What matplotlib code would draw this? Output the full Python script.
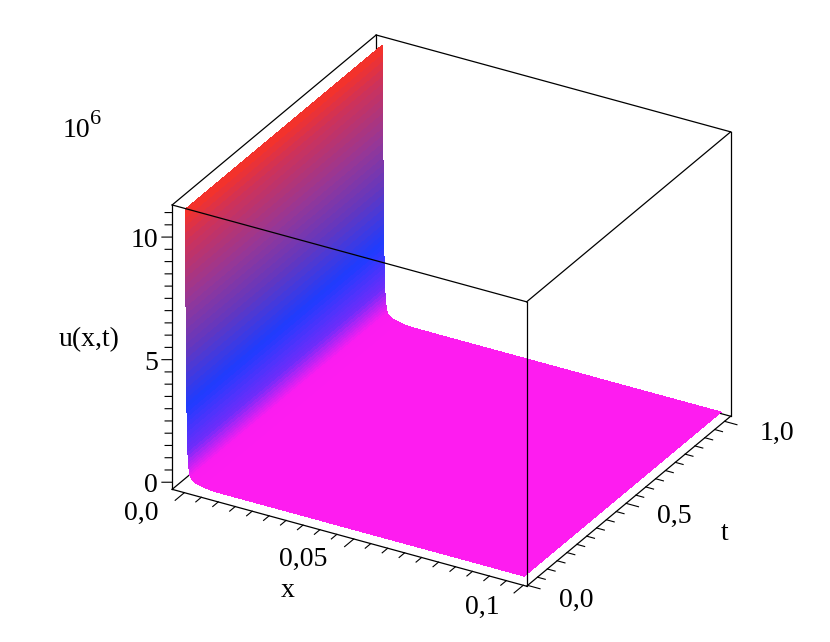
import numpy as np
import matplotlib
matplotlib.use("Agg")
import matplotlib.pyplot as plt
from matplotlib.colors import LinearSegmentedColormap, Normalize

plt.rcParams['font.family'] = ['Liberation Serif', 'DejaVu Serif']

# Profil de la surface u(x,t) (en unites de 10^6)
x_vals = [0, .00002, .00003, .00004, .00006, .00007, .00009, .0001, .00011, .00013,
          .00014, .00016, .00017, .00019, .0002, .00021, .00023, .00024, .00026, .00027,
          .00029, .00031, .00033, .00036, .00038, .0004, .00042, .00044, .00046, .00048,
          .0005, .00052, .00054, .00057, .0006, .00063, .00066, .0007, .00074, .00078,
          .00083, .00087, .00095, .00103, .00112, .00122, .00135, .00145, .00185, .00235,
          .003, .0038, .0052, .0066, .0082, .0097, .1]
u_vals = [11.24, 10.9, 10.6, 10.3, 10.0, 9.7, 9.4, 9.1, 8.8, 8.5,
          8.2, 7.9, 7.6, 7.3, 7.0, 6.7, 6.4, 6.1, 5.8, 5.5,
          5.2, 4.9, 4.6, 4.3, 4.0, 3.8, 3.6, 3.4, 3.2, 3.0,
          2.8, 2.6, 2.4, 2.2, 2.0, 1.85, 1.7, 1.55, 1.4, 1.25,
          1.1, .95, .85, .75, .65, .55, .45, .38, .3, .24,
          .19, .15, .11, .08, .06, .05, .05]
t_vals = [0, 1]

x_ticks = [0, .05, .1]
t_ticks = [0, .5, 1]
z_ticks = [0, 5, 10]

xlim = (-.0036, .1010)
tlim = (-.005, 1.031)
zlim = (-.29, 11.31)

fig = plt.figure(figsize=(8.3, 6.42), dpi=100)
ax = fig.add_axes([120.7 / 830, 0.7 / 642, 644 / 830, 644 / 642], projection='3d', proj_type='ortho')
ax.computed_zorder = False
ax.view_init(elev=28.5, azim=-60.2)
ax.set_box_aspect((409, 411, 324))
ax.set_xlim(*xlim, view_margin=0)
ax.set_ylim(*tlim, view_margin=0)
ax.set_zlim(*zlim, view_margin=0)
ax.set_axis_off()

# Surface coloree selon la hauteur
X, T = np.meshgrid(x_vals, t_vals)
U = np.tile(u_vals, (len(t_vals), 1))
z_max = 11.3
stops = [(0, (255, 28, 240)), (.4, (250, 28, 240)), (1.45, (110, 45, 250)), (3.2, (30, 60, 255)),
         (5.5, (100, 55, 190)), (7.5, (150, 55, 150)), (9.9, (205, 50, 90)), (z_max, (250, 50, 35))]
cmap = LinearSegmentedColormap.from_list('zhue', [(z / z_max, np.array(c) / 255) for z, c in stops], N=1024)
norm = Normalize(0, z_max)
faces = cmap(norm((U[:-1, :-1] + U[:-1, 1:]) / 2))
ax.plot_surface(X, T, U, rstride=1, cstride=1, facecolors=faces, shade=False,
                linewidth=0, antialiased=False, zorder=2)

# Aretes de la boite
xa, xb = xlim
ta, tb = tlim
za, zb = zlim
back = [([xa, xa], [ta, tb], [za, za]), ([xa, xb], [tb, tb], [za, za]), ([xa, xa], [tb, tb], [za, zb])]
front = [([xa, xb], [ta, ta], [za, za]), ([xb, xb], [ta, tb], [za, za]),
         ([xa, xb], [ta, ta], [zb, zb]), ([xb, xb], [ta, tb], [zb, zb]),
         ([xa, xb], [tb, tb], [zb, zb]), ([xa, xa], [ta, tb], [zb, zb]),
         ([xa, xa], [ta, ta], [za, zb]), ([xb, xb], [ta, ta], [za, zb]), ([xb, xb], [tb, tb], [za, zb])]
for e in back:
    ax.plot(*e, color='black', lw=0.9, zorder=1)
for e in front:
    ax.plot(*e, color='black', lw=0.9, zorder=3)

# Graduations
dx = xb - xa
dt = tb - ta
for v in np.arange(0, .1001, .005):
    major = any(abs(v - m) < 1e-6 for m in x_ticks)
    ax.plot([v, v], [ta, ta - (.045 if major else .027) * dt], [za, za], color='black', lw=0.8, zorder=3)
for v in np.arange(0, 1.001, .05):
    major = any(abs(v - m) < 1e-6 for m in t_ticks)
    ax.plot([xb, xb + (.035 if major else .022) * dx], [v, v], [za, za], color='black', lw=0.8, zorder=3)
for v in np.arange(0, 11.01, .5):
    major = v in z_ticks
    k = 1.45 if major else 1
    ax.plot([xa, xa - .015 * k * dx], [ta, ta - .0086 * k * dt], [v, v], color='black', lw=0.8, zorder=3)


def label(s, px, py, size=20):
    fig.text(px / 830, 1 - py / 642, s, fontsize=size, ha='center', va='baseline')


label('0,0', 141, 520)
label('0,05', 303.5, 566)
label('0,1', 482.5, 614)
label('x', 287.5, 597)
label('0,0', 576, 607)
label('0,5', 674.5, 523)
label('1,0', 777, 440)
label('t', 725, 540)
label('0', 151, 492)
label('5', 151, 370)
label('10', 144.5, 247)
label('u(x,t)', 89, 346)
label('10', 76.5, 137)
label('6', 95.5, 124, 16)

fig.savefig('out.png', dpi=100)
